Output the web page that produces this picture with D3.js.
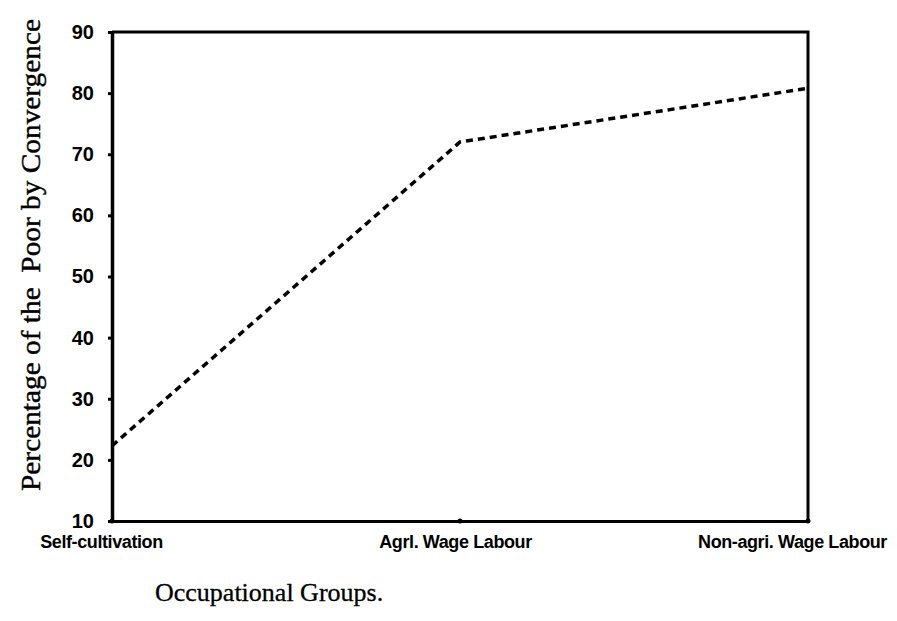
<!DOCTYPE html>
<html>
<head>
<meta charset="utf-8">
<script src="https://cdn.jsdelivr.net/npm/d3@7"></script>
<style>
  body { margin: 0; background: #fff; }
  svg { display: block; }
</style>
</head>
<body>
<svg width="897" height="621"></svg>
<script>
// data
var groups = ["Self-cultivation", "Agrl. Wage Labour", "Non-agri. Wage Labour"];
var poorPct = [22.3, 72, 80.8];
var yTicks = [10, 20, 30, 40, 50, 60, 70, 80, 90];

var margin = { left: 112, top: 32, right: 89, bottom: 100 };
var width = 897, height = 621;
var plotRight = width - margin.right;
var plotBottom = height - margin.bottom;

var svg = d3.select("svg");

var xScale = d3.scalePoint().domain(groups).range([margin.left, plotRight]).padding(0);
var yScale = d3.scaleLinear().domain([10, 90]).range([plotBottom, margin.top]);

// frame (top and right)
svg.append("path")
  .attr("d", "M" + margin.left + "," + margin.top + "H" + plotRight + "V" + plotBottom)
  .attr("fill", "none")
  .attr("stroke", "#000")
  .attr("stroke-width", 3);

// axes
var yAxis = d3.axisLeft(yScale).tickValues(yTicks).tickSize(4).tickPadding(14).tickSizeOuter(0);
var xAxis = d3.axisBottom(xScale).tickSize(0).tickPadding(14).tickSizeOuter(0);

var yAxisGroup = svg.append("g")
  .attr("transform", "translate(" + margin.left + ",0)")
  .call(yAxis);
var xAxisGroup = svg.append("g")
  .attr("transform", "translate(0," + plotBottom + ")")
  .call(xAxis);

yAxisGroup.select(".domain").attr("stroke-width", 3.5);
yAxisGroup.selectAll(".tick line").attr("stroke-width", 3);
yAxisGroup.selectAll(".tick text")
  .attr("font-family", "'Liberation Sans', Arial, sans-serif")
  .attr("font-weight", "bold")
  .attr("font-size", 20)
  .attr("fill", "#000");

xAxisGroup.select(".domain").attr("stroke-width", 3);
var labelShift = [-11, -5, -16];
xAxisGroup.selectAll(".tick text")
  .attr("font-family", "'Liberation Sans', Arial, sans-serif")
  .attr("font-weight", "bold")
  .attr("font-size", 18)
  .attr("letter-spacing", -0.4)
  .attr("dx", (d, i) => labelShift[i])
  .attr("fill", "#000");

// little dots where the points sit on the bottom axis
svg.append("g").selectAll("circle")
  .data(groups)
  .join("circle")
  .attr("cx", d => xScale(d))
  .attr("cy", plotBottom)
  .attr("r", 2.5)
  .attr("fill", "#000");

// dashed line
var line = d3.line()
  .x((d, i) => xScale(groups[i]))
  .y(d => yScale(d));

svg.append("path")
  .datum(poorPct)
  .attr("d", line)
  .attr("fill", "none")
  .attr("stroke", "#000")
  .attr("stroke-width", 3.5)
  .attr("stroke-dasharray", "7,5");

// axis titles
svg.append("text")
  .attr("transform", "translate(40,255) rotate(-90)")
  .attr("text-anchor", "middle")
  .attr("font-family", "'Liberation Serif', 'Times New Roman', serif")
  .attr("font-size", 27)
  .attr("stroke", "#000")
  .attr("stroke-width", 0.4)
  .attr("textLength", 472)
  .attr("lengthAdjust", "spacingAndGlyphs")
  .style("white-space", "pre")
  .text("Percentage of the  Poor by Convergence");

svg.append("text")
  .attr("x", 155)
  .attr("y", 601)
  .attr("font-family", "'Liberation Serif', 'Times New Roman', serif")
  .attr("font-size", 26)
  .attr("stroke", "#000")
  .attr("stroke-width", 0.3)
  .text("Occupational Groups.");
</script>
</body>
</html>
